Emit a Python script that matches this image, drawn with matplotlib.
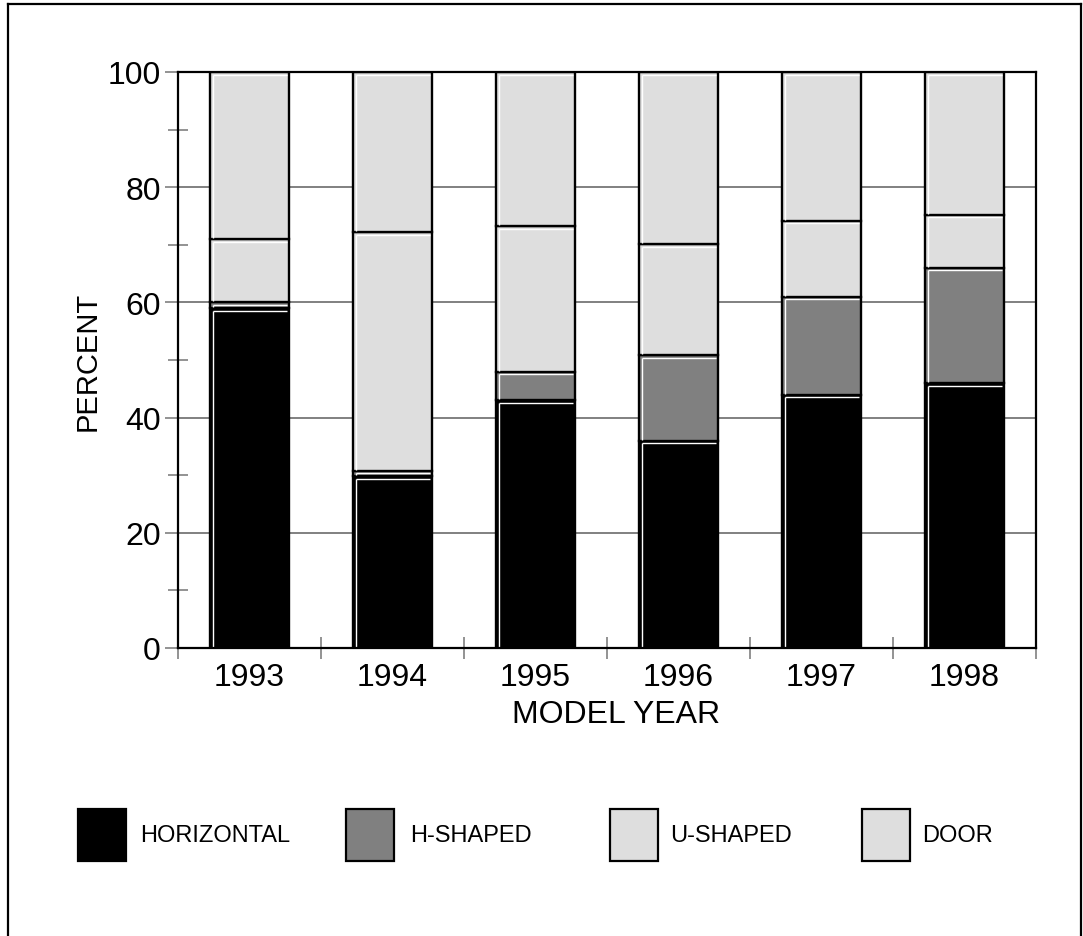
import matplotlib
matplotlib.use("Agg")
import matplotlib.pyplot as plt
import numpy as np
from matplotlib.patches import Rectangle
from matplotlib.lines import Line2D
from matplotlib import transforms

plt.rcParams['font.family'] = ['Liberation Sans', 'DejaVu Sans']

years = ['1993', '1994', '1995', '1996', '1997', '1998']
horizontal = [59.0, 29.8, 43.0, 36.0, 44.0, 46.0]
h_shaped = [1.0, 1.0, 5.0, 14.8, 17.0, 20.0]
u_shaped = [11.0, 41.4, 25.2, 19.3, 13.2, 9.2]
door = [29.0, 27.8, 26.8, 29.9, 25.8, 24.8]
series_names = ['HORIZONTAL', 'H-SHAPED', 'U-SHAPED', 'DOOR']
series_colors = ['#000000', '#808080', '#dedede', '#dedede']
y_ticks = [0, 20, 40, 60, 80, 100]
y_minor = [10, 30, 50, 70, 90]

W, H = 1083, 937
fig = plt.figure(figsize=(W / 100, H / 100), dpi=100)
ax = fig.add_axes([178 / W, 1 - 649 / H, (1036 - 178) / W, (649 - 73) / H])

x = np.arange(len(years))
bw = 0.55
series = [horizontal, h_shaped, u_shaped, door]
bottom = np.zeros(len(years))
hl_top = transforms.offset_copy(ax.transData, fig=fig, x=2.5, y=-2.5, units='dots')
for vals, col in zip(series, series_colors):
    vals = np.array(vals)
    ax.bar(x, vals, bw, bottom=bottom, color=col, edgecolor='black', linewidth=1.7, zorder=3)
    top = bottom + vals
    for xi, b, t in zip(x, bottom, top):
        ax.plot([xi - bw / 2, xi + bw / 2 - 0.03], [t, t], color='white', lw=1.0,
                transform=hl_top, zorder=4, solid_capstyle='butt')
        ax.plot([xi - bw / 2, xi - bw / 2], [b + 0.6, t], color='white', lw=1.0,
                transform=hl_top, zorder=4, solid_capstyle='butt')
    bottom = top

ax.set_xlim(-0.5, len(years) - 0.5)
ax.set_ylim(0, 100)
ax.set_yticks(y_ticks)
ax.set_yticks(y_minor, minor=True)
ax.yaxis.grid(True, which='major', color='#808080', linewidth=1.4, zorder=0)
ax.set_axisbelow(True)
ax.tick_params(axis='y', which='major', direction='out', length=9.5, width=1.2,
               color='#808080', labelsize=23, pad=3)
ax.tick_params(axis='y', which='minor', direction='inout', length=14, width=1.2,
               color='#808080')
ax.set_xticks(np.arange(-0.5, len(years), 1.0))
ax.set_xticklabels([])
ax.set_xticks(x, minor=True)
ax.set_xticklabels(years, minor=True)
ax.tick_params(axis='x', which='major', direction='inout', length=16, width=1.2,
               color='#808080')
ax.tick_params(axis='x', which='minor', length=0, labelsize=23, pad=10)
for s in ax.spines.values():
    s.set_color('black')
    s.set_linewidth(1.6)
    s.set_zorder(5)

ax.set_ylabel('PERCENT', fontsize=21, labelpad=4)
ax.set_xlabel('MODEL YEAR', fontsize=23, labelpad=5)
ax.xaxis.label.set_x(0.511)

# legend
leg_x = [78, 346, 610, 862]
txt_x = [140, 410, 670, 922]
for name, col, lx, tx in zip(series_names, series_colors, leg_x, txt_x):
    fig.patches.append(Rectangle((lx / W, 1 - 862 / H), 48 / W, 52 / H, transform=fig.transFigure,
                                 facecolor=col, edgecolor='black', linewidth=1.6))
    fig.text(tx / W, 1 - 836 / H, name, fontsize=17, va='center', ha='left')

# outer border
for xs, ys in [([8, 8], [5, H + 5]), ([8, 1081], [5, 5]), ([1081, 1081], [5, H + 5])]:
    fig.lines.append(Line2D([v / W for v in xs], [1 - v / H for v in ys], transform=fig.transFigure,
                            color='black', linewidth=1.6))

fig.savefig('out.png', dpi=100)
